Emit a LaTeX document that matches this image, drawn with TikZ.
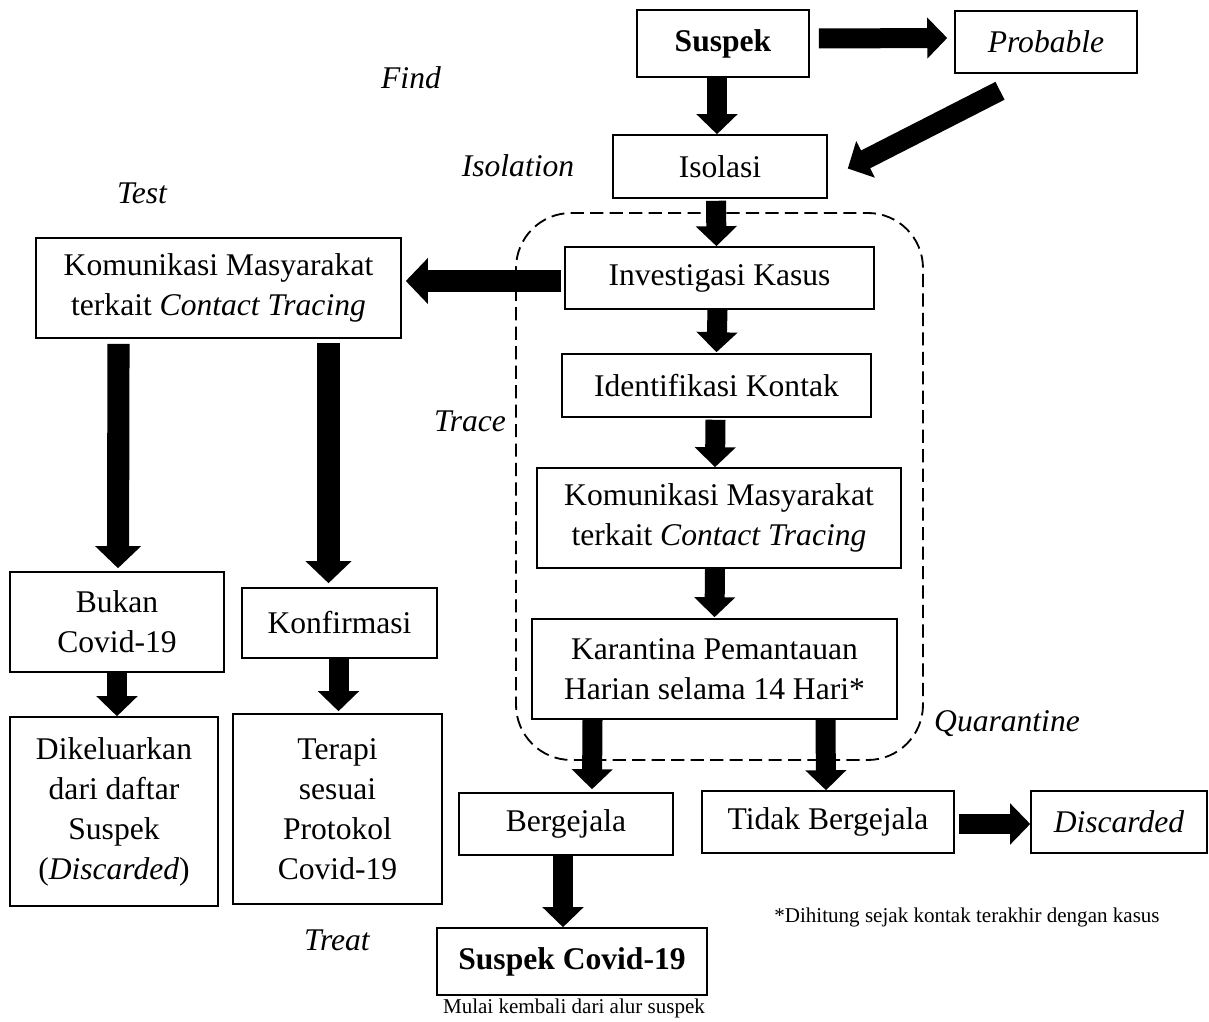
\documentclass[tikz,border=0pt]{standalone}
\usepackage{fontspec}
\setmainfont{Liberation Serif}
\usepackage{tikz}
\usetikzlibrary{calc, arrows.meta}

\tikzset{
    kotak/.style={draw, line width=0.6pt, align=center, inner sep=0pt,
        font=\fontsize{12}{15.2}\selectfont},
    ukuran/.style 2 args={minimum width=#1*0.38pt, minimum height=#2*0.38pt},
    tahap/.style={font=\fontsize{12}{15.2}\selectfont\itshape},
    kecil/.style={font=\fontsize{8}{10}\selectfont},
    fat/.style={line width=7.6pt, -{Triangle[length=7.6pt, width=15.2pt]}},
    fatbig/.style={line width=8.4pt, -{Triangle[length=8.4pt, width=17pt]}},
    bingkai/.style={line width=0.7pt, dash pattern=on 5pt off 2.4pt, rounded corners=21pt}
}

\begin{document}
\begin{tikzpicture}[x=0.38pt, y=-0.38pt]
    \useasboundingbox (0,0) rectangle (1209,1022);

    % Bingkai karantina
    \draw[bingkai] (516,213) rectangle (923,760);

    % Kotak-kotak alur
    \node[kotak, ukuran={172}{67}] (suspek) at (723,43.5) {\textbf{Suspek}};
    \node[kotak, ukuran={182}{62}] (probable) at (1046,42) {\textit{Probable}};
    \node[kotak, ukuran={214}{63}] (isolasi) at (720,166.5) {Isolasi};
    \node[kotak, ukuran={309}{62}] (investigasi) at (719.5,278) {Investigasi Kasus};
    \node[kotak, ukuran={365}{100}] (komkiri) at (218.5,288)
        {Komunikasi Masyarakat\\terkait \textit{Contact Tracing}};
    \node[kotak, ukuran={309}{63}] (identifikasi) at (716.5,385.5) {Identifikasi Kontak};
    \node[kotak, ukuran={364}{100}] (komkanan) at (719,518)
        {Komunikasi Masyarakat\\terkait \textit{Contact Tracing}};
    \node[kotak, ukuran={365}{100}] (karantina) at (714.5,669)
        {Karantina Pemantauan\\Harian selama 14 Hari*};
    \node[kotak, ukuran={214}{100}] (bukan) at (117,622) {Bukan\\Covid-19};
    \node[kotak, ukuran={195}{70}] (konfirmasi) at (339.5,623) {Konfirmasi};
    \node[kotak, ukuran={208}{189}] (keluar) at (114,811.5)
        {Dikeluarkan\\dari daftar\\Suspek\\(\textit{Discarded})};
    \node[kotak, ukuran={209}{190}] (terapi) at (337.5,809)
        {Terapi\\sesuai\\Protokol\\Covid-19};
    \node[kotak, ukuran={214}{62}] (bergejala) at (566,824) {Bergejala};
    \node[kotak, ukuran={252}{62}] (tidak) at (828,822) {Tidak Bergejala};
    \node[kotak, ukuran={176}{62}] (discarded) at (1119,822) {\textit{Discarded}};
    \node[kotak, ukuran={270}{67}] (suspekcovid) at (572,961.5) {\textbf{Suspek Covid-19}};

    % Tahapan
    \node[tahap] (lfind) at (411,78) {Find};
    \node[tahap] (lisolation) at (518,166) {Isolation};
    \node[tahap] (ltest) at (142,193) {Test};
    \node[tahap] (ltrace) at (470,421) {Trace};
    \node[tahap] (lquarantine) at (1007,724) {Quarantine};
    \node[tahap] (ltreat) at (337,940) {Treat};

    % Keterangan
    \node[kecil] (catatan) at (967,917) {*Dihitung sejak kontak terakhir dengan kasus};
    \node[kecil] (mulai) at (574,1008) {Mulai kembali dari alur suspek};

    % Panah
    \draw[fat] ($(suspek.east)+(9,-5)$) -- ($(probable.west)+(-7,-4)$);
    \draw[fat] ($(suspek.south)+(-6,0)$) -- ($(isolasi.north)+(-3,0)$);
    \draw[fat] ($(probable.south)+(-46,17)$) -- ($(isolasi.east)+(20,2)$);
    \draw[fat] ($(isolasi.south)+(-4,2)$) -- ($(investigasi.north)+(-3,0)$);
    \draw[fatbig] ($(investigasi.west)+(-3,3)$) -- ($(komkiri.east)+(4,-7)$);
    \draw[fat] ($(investigasi.south)+(-2,0)$) -- ($(identifikasi.north)+(0,-1)$);
    \draw[fat] ($(identifikasi.south)+(-1,2)$) -- ($(komkanan.north)+(-4,0)$);
    \draw[fat] ($(komkanan.south)+(-4,0)$) -- ($(karantina.north)+(0,-1)$);
    \draw[fat] ($(karantina.south)+(-122,0)$) -- ($(bergejala.north)+(26,-3)$);
    \draw[fat] ($(karantina.south)+(111,0)$) -- ($(tidak.north)+(-2,0)$);
    \draw[fat] ($(tidak.east)+(4,2)$) -- ($(discarded.west)+(0,2)$);
    \draw[fat] ($(bergejala.south)+(-3,0)$) -- ($(suspekcovid.north)+(-9,0)$);
    \draw[fatbig] ($(komkiri.south)+(-100,5)$) -- ($(bukan.north)+(1,-3)$);
    \draw[fatbig] ($(komkiri.south)+(110,4)$) -- ($(konfirmasi.north)+(-11,-4)$);
    \draw[fat] ($(bukan.south)+(0,0)$) -- ($(keluar.north)+(3,0)$);
    \draw[fat] ($(konfirmasi.south)+(-1,0)$) -- ($(terapi.north)+(1,-2)$);
\end{tikzpicture}
\end{document}
